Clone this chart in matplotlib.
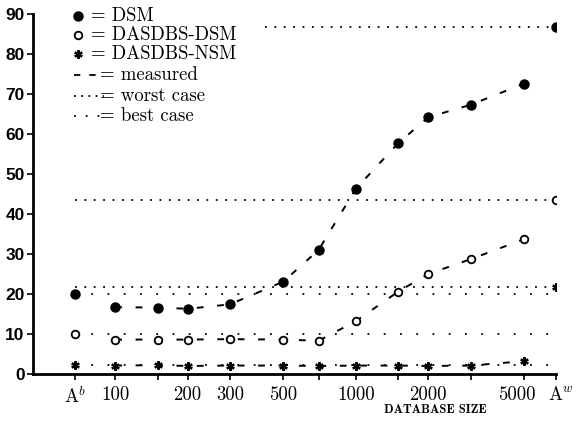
import matplotlib
matplotlib.use('Agg')
import matplotlib.pyplot as plt
import matplotlib.transforms as mtransforms
from matplotlib.lines import Line2D
import numpy as np

# x positions: A^b and A^w are placed on the log axis as pseudo sizes
size_labels = ['A$^b$', '100', '', '200', '300', '500', '', '1000', '', '2000', '', '5000', 'A$^w$']
sizes = np.array([68, 100, 150, 200, 300, 500, 700, 1000, 1500, 2000, 3000, 5000, 6760])

dsm = np.array([20.0, 16.7, 16.6, 16.3, 17.4, 23.1, 31.0, 46.3, 57.7, 64.2, 67.3, 72.6, 86.8])
dasdbs_dsm = np.array([10.0, 8.6, 8.6, 8.6, 8.7, 8.6, 8.3, 13.2, 20.6, 25.0, 28.7, 33.7, 43.4])
dasdbs_nsm = np.array([2.2, 2.1, 2.2, 2.0, 2.1, 2.1, 2.0, 2.1, 2.1, 2.0, 2.1, 3.2, 21.7])

# best case = value at A^b, worst case = value at A^w
best = {'dsm': 20.0, 'ddsm': 10.0, 'nsm': 2.2}
worst = {'dsm': 86.8, 'ddsm': 43.4, 'nsm': 21.7}
worst_start = {'dsm': 420, 'ddsm': 68, 'nsm': 68}

plt.rcParams['axes.formatter.use_mathtext'] = True
plt.rcParams['mathtext.fontset'] = 'cm'
serif = 'cmr10'

W, H = 577, 424
fig = plt.figure(figsize=(W / 100, H / 100), dpi=100)
ax = fig.add_axes([0.057, 0.118, 0.907, 0.849])
ax.set_xscale('log')

dash_meas = (0, (3.5, 7))
dot_worst = (0, (1, 4.2))
dot_best = (0, (1, 8))

star = dict(marker=(6, 2, 0), mfc='black', mec='black', ms=6, mew=1.6)
series = [('dsm', dsm, dict(marker='o', mfc='black', mec='black', ms=6.5)),
          ('ddsm', dasdbs_dsm, dict(marker='o', mfc='white', mec='black', ms=5.5, mew=1.3)),
          ('nsm', dasdbs_nsm, star)]

for key, vals, mk in series:
    ax.plot([sizes[0], sizes[-1]], [best[key], best[key]], color='black', lw=1.3,
            linestyle=dot_best)
    ax.plot([worst_start[key], sizes[-1]], [worst[key], worst[key]], color='black', lw=1.3,
            linestyle=dot_worst)
    ax.plot(sizes[1:-1], vals[1:-1], color='black', lw=1.4, linestyle=dash_meas)
    ax.plot(sizes, vals, linestyle='none', zorder=3, **mk)

ax.set_xlim(45.5, 6800)
ax.set_ylim(0, 90)
ax.set_xticks(sizes)
ax.set_xticklabels(size_labels, fontfamily=serif, fontsize=13.5)
ax.minorticks_off()
ax.set_yticks(np.arange(0, 91, 10))
ax.set_yticklabels([str(v) for v in range(0, 91, 10)], fontsize=12.5, fontweight='bold',
                   fontfamily='Liberation Sans')
ax.tick_params(axis='both', direction='out', length=4, width=1.2, color='black')
ax.tick_params(axis='x', pad=5)
ax.tick_params(axis='y', pad=2)
for s in ['top', 'right']:
    ax.spines[s].set_visible(False)
for s in ['left', 'bottom']:
    ax.spines[s].set_linewidth(2)

# nudge the crowded labels at the right end apart
xlabels = ax.get_xticklabels()
for lab, dx in [(xlabels[-2], -7), (xlabels[-1], 5)]:
    lab.set_transform(lab.get_transform() + mtransforms.ScaledTranslation(dx / 100, 0, fig.dpi_scale_trans))

fig.text(435 / W, 1 - 410 / H, 'DATABASE SIZE', fontfamily='cmb10', fontsize=9,
         ha='center', va='center')

# hand-made legend, positions in pixels
def fx(px):
    return px / W

def fy(py):
    return 1 - py / H

rows = [16, 35, 54, 75, 96, 116]
marker_rows = [(dict(marker='o', mfc='black', mec='black', ms=6.5), '= DSM'),
               (dict(marker='o', mfc='white', mec='black', ms=5.5, mew=1.3), '= DASDBS-DSM'),
               (star, '= DASDBS-NSM')]
for (mk, txt), py in zip(marker_rows, rows[:3]):
    fig.add_artist(Line2D([fx(78)], [fy(py)], linestyle='none', color='black', **mk))
    fig.text(fx(91), fy(py), txt, fontfamily=serif, fontsize=13.5, va='center', ha='left')

line_rows = [((0, (3.5, 5)), '= measured'), ((0, (1, 3)), '= worst case'),
             ((0, (1, 5.5)), '= best case')]
for (ls, txt), py in zip(line_rows, rows[3:]):
    fig.add_artist(Line2D([fx(74), fx(104)], [fy(py), fy(py)], color='black', lw=1.3,
                          linestyle=ls))
    fig.text(fx(100), fy(py), txt, fontfamily=serif, fontsize=13.5, va='center', ha='left')

fig.savefig('out.png', dpi=100)
